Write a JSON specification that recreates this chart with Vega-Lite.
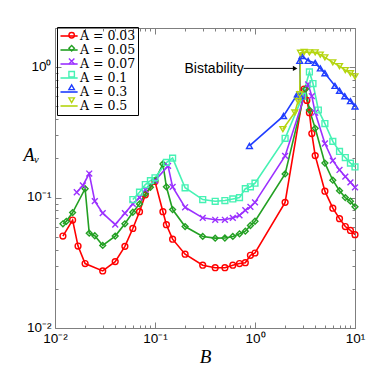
{
  "$schema": "https://vega.github.io/schema/vega-lite/v6.json",
  "width": 300,
  "height": 300,
  "autosize": {"type": "none"},
  "padding": {"left": 55, "top": 28, "right": 19, "bottom": 41},
  "background": "white",
  "config": {
    "view": {"stroke": "#7f7f7f", "strokeWidth": 1},
    "axis": {"domain": false, "grid": false, "tickColor": "#7f7f7f", "labelColor": "black", "labelFont": "Liberation Sans", "labelFontSize": 13.5, "labelOverlap": false, "labelBound": false, "labelFlush": false}
  },
  "datasets": {
    "curves": [
      {"A": "A = 0.03", "i": 1, "B": 0.012, "Av": 0.0507},
      {"A": "A = 0.03", "i": 2, "B": 0.015, "Av": 0.0673},
      {"A": "A = 0.03", "i": 3, "B": 0.017, "Av": 0.0425},
      {"A": "A = 0.03", "i": 4, "B": 0.02, "Av": 0.0312},
      {"A": "A = 0.03", "i": 5, "B": 0.03, "Av": 0.0274},
      {"A": "A = 0.03", "i": 6, "B": 0.04, "Av": 0.0323},
      {"A": "A = 0.03", "i": 7, "B": 0.05, "Av": 0.0423},
      {"A": "A = 0.03", "i": 8, "B": 0.06, "Av": 0.058},
      {"A": "A = 0.03", "i": 9, "B": 0.07, "Av": 0.078},
      {"A": "A = 0.03", "i": 10, "B": 0.08, "Av": 0.105},
      {"A": "A = 0.03", "i": 11, "B": 0.1, "Av": 0.133},
      {"A": "A = 0.03", "i": 12, "B": 0.12, "Av": 0.078},
      {"A": "A = 0.03", "i": 13, "B": 0.13, "Av": 0.062},
      {"A": "A = 0.03", "i": 14, "B": 0.15, "Av": 0.048},
      {"A": "A = 0.03", "i": 15, "B": 0.2, "Av": 0.0368},
      {"A": "A = 0.03", "i": 16, "B": 0.3, "Av": 0.0303},
      {"A": "A = 0.03", "i": 17, "B": 0.4, "Av": 0.029},
      {"A": "A = 0.03", "i": 18, "B": 0.5, "Av": 0.029},
      {"A": "A = 0.03", "i": 19, "B": 0.6, "Av": 0.0303},
      {"A": "A = 0.03", "i": 20, "B": 0.7, "Av": 0.0312},
      {"A": "A = 0.03", "i": 21, "B": 0.8, "Av": 0.0317},
      {"A": "A = 0.03", "i": 22, "B": 0.9, "Av": 0.0361},
      {"A": "A = 0.03", "i": 23, "B": 1, "Av": 0.0376},
      {"A": "A = 0.03", "i": 24, "B": 2, "Av": 0.092},
      {"A": "A = 0.03", "i": 25, "B": 3.1, "Av": 0.68},
      {"A": "A = 0.03", "i": 26, "B": 3.3, "Av": 0.557},
      {"A": "A = 0.03", "i": 27, "B": 3.5, "Av": 0.448},
      {"A": "A = 0.03", "i": 28, "B": 3.7, "Av": 0.31},
      {"A": "A = 0.03", "i": 29, "B": 4, "Av": 0.21},
      {"A": "A = 0.03", "i": 30, "B": 5, "Av": 0.112},
      {"A": "A = 0.03", "i": 31, "B": 6, "Av": 0.083},
      {"A": "A = 0.03", "i": 32, "B": 7, "Av": 0.069},
      {"A": "A = 0.03", "i": 33, "B": 8, "Av": 0.06},
      {"A": "A = 0.03", "i": 34, "B": 9, "Av": 0.056},
      {"A": "A = 0.03", "i": 35, "B": 10, "Av": 0.052},

      {"A": "A = 0.05", "i": 1, "B": 0.012, "Av": 0.063},
      {"A": "A = 0.05", "i": 2, "B": 0.013, "Av": 0.0658},
      {"A": "A = 0.05", "i": 3, "B": 0.015, "Av": 0.0768},
      {"A": "A = 0.05", "i": 4, "B": 0.02, "Av": 0.117},
      {"A": "A = 0.05", "i": 5, "B": 0.022, "Av": 0.0534},
      {"A": "A = 0.05", "i": 6, "B": 0.025, "Av": 0.051},
      {"A": "A = 0.05", "i": 7, "B": 0.03, "Av": 0.043},
      {"A": "A = 0.05", "i": 8, "B": 0.04, "Av": 0.0507},
      {"A": "A = 0.05", "i": 9, "B": 0.05, "Av": 0.063},
      {"A": "A = 0.05", "i": 10, "B": 0.06, "Av": 0.0772},
      {"A": "A = 0.05", "i": 11, "B": 0.07, "Av": 0.0895},
      {"A": "A = 0.05", "i": 12, "B": 0.08, "Av": 0.107},
      {"A": "A = 0.05", "i": 13, "B": 0.09, "Av": 0.12},
      {"A": "A = 0.05", "i": 14, "B": 0.1, "Av": 0.135},
      {"A": "A = 0.05", "i": 15, "B": 0.12, "Av": 0.181},
      {"A": "A = 0.05", "i": 16, "B": 0.13, "Av": 0.121},
      {"A": "A = 0.05", "i": 17, "B": 0.15, "Av": 0.081},
      {"A": "A = 0.05", "i": 18, "B": 0.2, "Av": 0.06},
      {"A": "A = 0.05", "i": 19, "B": 0.3, "Av": 0.0504},
      {"A": "A = 0.05", "i": 20, "B": 0.4, "Av": 0.0489},
      {"A": "A = 0.05", "i": 21, "B": 0.5, "Av": 0.049},
      {"A": "A = 0.05", "i": 22, "B": 0.6, "Av": 0.0504},
      {"A": "A = 0.05", "i": 23, "B": 0.7, "Av": 0.0528},
      {"A": "A = 0.05", "i": 24, "B": 0.8, "Av": 0.0553},
      {"A": "A = 0.05", "i": 25, "B": 0.9, "Av": 0.0611},
      {"A": "A = 0.05", "i": 26, "B": 1, "Av": 0.0659},
      {"A": "A = 0.05", "i": 27, "B": 2, "Av": 0.152},
      {"A": "A = 0.05", "i": 28, "B": 3.2, "Av": 0.68},
      {"A": "A = 0.05", "i": 29, "B": 3.5, "Av": 0.47},
      {"A": "A = 0.05", "i": 30, "B": 4, "Av": 0.34},
      {"A": "A = 0.05", "i": 31, "B": 5, "Av": 0.184},
      {"A": "A = 0.05", "i": 32, "B": 6, "Av": 0.136},
      {"A": "A = 0.05", "i": 33, "B": 7, "Av": 0.113},
      {"A": "A = 0.05", "i": 34, "B": 8, "Av": 0.1},
      {"A": "A = 0.05", "i": 35, "B": 9, "Av": 0.094},
      {"A": "A = 0.05", "i": 36, "B": 10, "Av": 0.085},

      {"A": "A = 0.07", "i": 1, "B": 0.0165, "Av": 0.11},
      {"A": "A = 0.07", "i": 2, "B": 0.019, "Av": 0.124},
      {"A": "A = 0.07", "i": 3, "B": 0.022, "Av": 0.153},
      {"A": "A = 0.07", "i": 4, "B": 0.025, "Av": 0.094},
      {"A": "A = 0.07", "i": 5, "B": 0.03, "Av": 0.076},
      {"A": "A = 0.07", "i": 6, "B": 0.04, "Av": 0.0622},
      {"A": "A = 0.07", "i": 7, "B": 0.05, "Av": 0.076},
      {"A": "A = 0.07", "i": 8, "B": 0.06, "Av": 0.0895},
      {"A": "A = 0.07", "i": 9, "B": 0.07, "Av": 0.1},
      {"A": "A = 0.07", "i": 10, "B": 0.08, "Av": 0.115},
      {"A": "A = 0.07", "i": 11, "B": 0.1, "Av": 0.135},
      {"A": "A = 0.07", "i": 12, "B": 0.135, "Av": 0.175},
      {"A": "A = 0.07", "i": 13, "B": 0.15, "Av": 0.121},
      {"A": "A = 0.07", "i": 14, "B": 0.2, "Av": 0.0843},
      {"A": "A = 0.07", "i": 15, "B": 0.3, "Av": 0.07},
      {"A": "A = 0.07", "i": 16, "B": 0.4, "Av": 0.0676},
      {"A": "A = 0.07", "i": 17, "B": 0.5, "Av": 0.0676},
      {"A": "A = 0.07", "i": 18, "B": 0.6, "Av": 0.07},
      {"A": "A = 0.07", "i": 19, "B": 0.7, "Av": 0.073},
      {"A": "A = 0.07", "i": 20, "B": 0.8, "Av": 0.08},
      {"A": "A = 0.07", "i": 21, "B": 0.9, "Av": 0.085},
      {"A": "A = 0.07", "i": 22, "B": 1, "Av": 0.092},
      {"A": "A = 0.07", "i": 23, "B": 2, "Av": 0.209},
      {"A": "A = 0.07", "i": 24, "B": 3.4, "Av": 0.74},
      {"A": "A = 0.07", "i": 25, "B": 3.7, "Av": 0.6},
      {"A": "A = 0.07", "i": 26, "B": 4, "Av": 0.448},
      {"A": "A = 0.07", "i": 27, "B": 5, "Av": 0.26},
      {"A": "A = 0.07", "i": 28, "B": 6, "Av": 0.192},
      {"A": "A = 0.07", "i": 29, "B": 7, "Av": 0.163},
      {"A": "A = 0.07", "i": 30, "B": 8, "Av": 0.145},
      {"A": "A = 0.07", "i": 31, "B": 9, "Av": 0.131},
      {"A": "A = 0.07", "i": 32, "B": 10, "Av": 0.12},

      {"A": "A = 0.1", "i": 1, "B": 0.06, "Av": 0.0966},
      {"A": "A = 0.1", "i": 2, "B": 0.07, "Av": 0.11},
      {"A": "A = 0.1", "i": 3, "B": 0.08, "Av": 0.126},
      {"A": "A = 0.1", "i": 4, "B": 0.09, "Av": 0.135},
      {"A": "A = 0.1", "i": 5, "B": 0.1, "Av": 0.142},
      {"A": "A = 0.1", "i": 6, "B": 0.13, "Av": 0.186},
      {"A": "A = 0.1", "i": 7, "B": 0.15, "Av": 0.201},
      {"A": "A = 0.1", "i": 8, "B": 0.2, "Av": 0.119},
      {"A": "A = 0.1", "i": 9, "B": 0.3, "Av": 0.0966},
      {"A": "A = 0.1", "i": 10, "B": 0.4, "Av": 0.0937},
      {"A": "A = 0.1", "i": 11, "B": 0.5, "Av": 0.095},
      {"A": "A = 0.1", "i": 12, "B": 0.6, "Av": 0.0977},
      {"A": "A = 0.1", "i": 13, "B": 0.7, "Av": 0.1},
      {"A": "A = 0.1", "i": 14, "B": 0.8, "Av": 0.117},
      {"A": "A = 0.1", "i": 15, "B": 0.9, "Av": 0.121},
      {"A": "A = 0.1", "i": 16, "B": 1, "Av": 0.129},
      {"A": "A = 0.1", "i": 17, "B": 2, "Av": 0.285},
      {"A": "A = 0.1", "i": 18, "B": 3, "Av": 0.6},
      {"A": "A = 0.1", "i": 19, "B": 3.5, "Av": 0.92},
      {"A": "A = 0.1", "i": 20, "B": 3.8, "Av": 0.75},
      {"A": "A = 0.1", "i": 21, "B": 4.3, "Av": 0.47},
      {"A": "A = 0.1", "i": 22, "B": 5, "Av": 0.37},
      {"A": "A = 0.1", "i": 23, "B": 6, "Av": 0.27},
      {"A": "A = 0.1", "i": 24, "B": 7, "Av": 0.226},
      {"A": "A = 0.1", "i": 25, "B": 8, "Av": 0.203},
      {"A": "A = 0.1", "i": 26, "B": 9, "Av": 0.184},
      {"A": "A = 0.1", "i": 27, "B": 10, "Av": 0.172},

      {"A": "A = 0.3", "i": 1, "B": 0.88, "Av": 0.249},
      {"A": "A = 0.3", "i": 2, "B": 1.93, "Av": 0.423},
      {"A": "A = 0.3", "i": 3, "B": 2.65, "Av": 0.62},
      {"A": "A = 0.3", "i": 4, "B": 2.85, "Av": 0.6},
      {"A": "A = 0.3", "i": 5, "B": 2.8, "Av": 1.12},
      {"A": "A = 0.3", "i": 6, "B": 2.95, "Av": 1.22},
      {"A": "A = 0.3", "i": 7, "B": 3.4, "Av": 1.12},
      {"A": "A = 0.3", "i": 8, "B": 4, "Av": 1.08},
      {"A": "A = 0.3", "i": 9, "B": 4.5, "Av": 0.98},
      {"A": "A = 0.3", "i": 10, "B": 5, "Av": 0.9},
      {"A": "A = 0.3", "i": 11, "B": 6.3, "Av": 0.72},
      {"A": "A = 0.3", "i": 12, "B": 7, "Av": 0.66},
      {"A": "A = 0.3", "i": 13, "B": 7.9, "Av": 0.6},
      {"A": "A = 0.3", "i": 14, "B": 9, "Av": 0.55},
      {"A": "A = 0.3", "i": 15, "B": 10, "Av": 0.5},

      {"A": "A = 0.5", "i": 1, "B": 1.9, "Av": 0.335},
      {"A": "A = 0.5", "i": 2, "B": 2.5, "Av": 0.45},
      {"A": "A = 0.5", "i": 3, "B": 2.7, "Av": 0.55},
      {"A": "A = 0.5", "i": 4, "B": 2.8, "Av": 0.62},
      {"A": "A = 0.5", "i": 5, "B": 2.85, "Av": 1.29},
      {"A": "A = 0.5", "i": 6, "B": 3.1, "Av": 1.31},
      {"A": "A = 0.5", "i": 7, "B": 3.5, "Av": 1.3},
      {"A": "A = 0.5", "i": 8, "B": 4, "Av": 1.3},
      {"A": "A = 0.5", "i": 9, "B": 4.5, "Av": 1.25},
      {"A": "A = 0.5", "i": 10, "B": 5, "Av": 1.19},
      {"A": "A = 0.5", "i": 11, "B": 6, "Av": 1.09},
      {"A": "A = 0.5", "i": 12, "B": 7, "Av": 1.02},
      {"A": "A = 0.5", "i": 13, "B": 8, "Av": 0.95},
      {"A": "A = 0.5", "i": 14, "B": 9, "Av": 0.9},
      {"A": "A = 0.5", "i": 15, "B": 10, "Av": 0.85}
    ],
    "note": [{"B": 0.77, "Av": 0.963, "label": "Bistability", "B2": 2.45, "Av2": 0.98, "Bh": 2.52}]
  },
  "layer": [
    {
      "data": {"name": "curves"},
      "mark": {"type": "line", "strokeWidth": 1.6},
      "encoding": {
        "x": {
          "field": "B", "type": "quantitative",
          "scale": {"type": "log", "domain": [0.01, 10], "nice": false},
          "axis": {
            "orient": "bottom",
            "values": [0.01, 0.02, 0.03, 0.04, 0.05, 0.06, 0.07, 0.08, 0.09, 0.1, 0.2, 0.3, 0.4, 0.5, 0.6, 0.7, 0.8, 0.9, 1, 2, 3, 4, 5, 6, 7, 8, 9, 10],
            "labelExpr": "abs(log(datum.value)/LN10 - round(log(datum.value)/LN10)) > 0.000001 ? '' : round(log(datum.value)/LN10) == -2 ? '10⁻²' : round(log(datum.value)/LN10) == -1 ? '10⁻¹' : round(log(datum.value)/LN10) == 0 ? '10⁰' : '10¹'",
            "tickSize": {"condition": {"test": "abs(log(datum.value)/LN10 - round(log(datum.value)/LN10)) < 0.000001", "value": -6}, "value": -3},
            "labelPadding": 9,
            "title": "B", "titleFont": "Liberation Serif", "titleFontStyle": "italic", "titleFontWeight": "normal", "titleFontSize": 19, "titlePadding": 0
          }
        },
        "y": {
          "field": "Av", "type": "quantitative",
          "scale": {"type": "log", "domain": [0.01, 2], "nice": false},
          "axis": {
            "orient": "left",
            "values": [0.01, 0.02, 0.03, 0.04, 0.05, 0.06, 0.07, 0.08, 0.09, 0.1, 0.2, 0.3, 0.4, 0.5, 0.6, 0.7, 0.8, 0.9, 1, 2],
            "labelExpr": "abs(log(datum.value)/LN10 - round(log(datum.value)/LN10)) > 0.000001 ? '' : round(log(datum.value)/LN10) == -2 ? '10⁻²' : round(log(datum.value)/LN10) == -1 ? '10⁻¹' : round(log(datum.value)/LN10) == 0 ? '10⁰' : '10¹'",
            "tickSize": {"condition": {"test": "abs(log(datum.value)/LN10 - round(log(datum.value)/LN10)) < 0.000001", "value": -6}, "value": -3},
            "labelPadding": 10,
            "labelBaseline": "bottom",
            "labelOffset": 6,
            "title": "Aᵥ", "titleFont": "Liberation Serif", "titleFontStyle": "italic", "titleFontWeight": "normal", "titleFontSize": 18,
            "titleAngle": 0, "titleAlign": "center", "titleBaseline": "middle", "titleX": -24, "titleY": 127
          }
        },
        "color": {
          "field": "A", "type": "nominal",
          "scale": {"domain": ["A = 0.03", "A = 0.05", "A = 0.07", "A = 0.1", "A = 0.3", "A = 0.5"], "range": ["#ff0000", "#23a023", "#9b30ff", "#46f2b4", "#1f3dff", "#b5d50f"]},
          "legend": {"orient": "none", "legendX": 2, "legendY": -1, "title": null, "symbolType": "M-0.9,0L1.9,0", "symbolSize": 150, "symbolStrokeWidth": 1.6, "symbolFillColor": "transparent", "labelFont": "DejaVu Serif", "labelFontSize": 12.5, "labelOffset": 7, "rowPadding": 0, "padding": 2, "strokeColor": "black", "labelColor": "black"}
        },
        "order": {"field": "i", "type": "quantitative"}
      }
    },
    {
      "data": {"name": "curves"},
      "transform": [{"calculate": "datum.A + ' '", "as": "S"}],
      "mark": {"type": "point", "filled": false, "strokeWidth": 1.4, "size": 34, "opacity": 1},
      "encoding": {
        "x": {"field": "B", "type": "quantitative", "axis": {"orient": "top", "values": [0.01, 0.02, 0.03, 0.04, 0.05, 0.06, 0.07, 0.08, 0.09, 0.1, 0.2, 0.3, 0.4, 0.5, 0.6, 0.7, 0.8, 0.9, 1, 2, 3, 4, 5, 6, 7, 8, 9, 10], "labels": false, "title": null, "tickSize": {"condition": {"test": "abs(log(datum.value)/LN10 - round(log(datum.value)/LN10)) < 0.000001", "value": -6}, "value": -3}}},
        "y": {"field": "Av", "type": "quantitative", "axis": {"orient": "right", "values": [0.01, 0.02, 0.03, 0.04, 0.05, 0.06, 0.07, 0.08, 0.09, 0.1, 0.2, 0.3, 0.4, 0.5, 0.6, 0.7, 0.8, 0.9, 1, 2], "labels": false, "title": null, "tickSize": {"condition": {"test": "abs(log(datum.value)/LN10 - round(log(datum.value)/LN10)) < 0.000001", "value": -6}, "value": -3}}},
        "stroke": {
          "field": "S", "type": "nominal",
          "scale": {"domain": ["A = 0.03 ", "A = 0.05 ", "A = 0.07 ", "A = 0.1 ", "A = 0.3 ", "A = 0.5 "], "range": ["#ff0000", "#23a023", "#9b30ff", "#46f2b4", "#1f3dff", "#b5d50f"]},
          "legend": {"orient": "none", "legendX": 8.4, "legendY": -1, "title": null, "symbolSize": 30, "symbolStrokeWidth": 1.4, "symbolFillColor": "transparent", "labelFont": "DejaVu Serif", "labelFontSize": 12.5, "labelOffset": 4, "rowPadding": 0, "padding": 2, "labelExpr": "' '", "labelOpacity": 0}
        },
        "shape": {
          "field": "S", "type": "nominal",
          "scale": {"domain": ["A = 0.03 ", "A = 0.05 ", "A = 0.07 ", "A = 0.1 ", "A = 0.3 ", "A = 0.5 "], "range": ["circle", "diamond", "M-1,-1L1,1M1,-1L-1,1", "square", "triangle-up", "triangle-down"]},
          "legend": {"orient": "none", "legendX": 8.4, "legendY": -1, "title": null, "symbolSize": 30, "symbolStrokeWidth": 1.4, "symbolFillColor": "transparent", "labelFont": "DejaVu Serif", "labelFontSize": 12.5, "labelOffset": 4, "rowPadding": 0, "padding": 2, "labelExpr": "' '", "labelOpacity": 0}
        }
      }
    },
    {
      "data": {"name": "note"},
      "mark": {"type": "text", "align": "right", "baseline": "middle", "font": "Liberation Sans", "fontSize": 14, "color": "black"},
      "encoding": {
        "x": {"field": "B", "type": "quantitative", "axis": null},
        "y": {"field": "Av", "type": "quantitative", "axis": null},
        "text": {"field": "label"}
      }
    },
    {
      "data": {"name": "note"},
      "mark": {"type": "rule", "color": "black", "strokeWidth": 1},
      "encoding": {
        "x": {"field": "B", "type": "quantitative", "axis": null},
        "x2": {"field": "B2"},
        "y": {"field": "Av2", "type": "quantitative", "axis": null}
      }
    },
    {
      "data": {"name": "note"},
      "mark": {"type": "point", "shape": "triangle-right", "filled": true, "color": "black", "size": 28, "opacity": 1},
      "encoding": {
        "x": {"field": "Bh", "type": "quantitative", "axis": null},
        "y": {"field": "Av2", "type": "quantitative", "axis": null}
      }
    }
  ],
  "resolve": {"axis": {"x": "independent", "y": "independent"}}
}
